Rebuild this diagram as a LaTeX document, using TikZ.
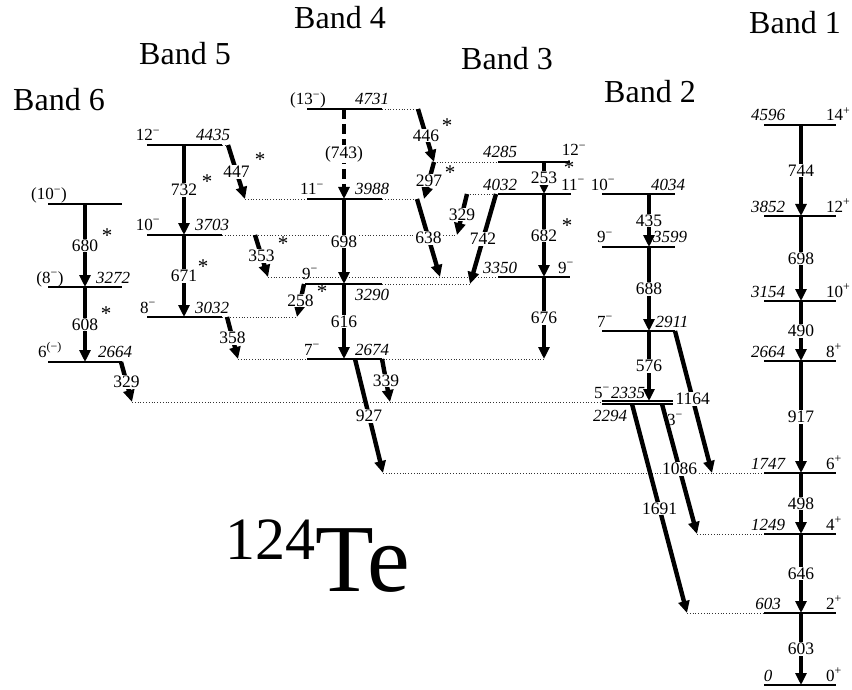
\documentclass[tikz,border=0pt]{standalone}
\usepackage{fontspec}
\setmainfont{Liberation Serif}
\usetikzlibrary{arrows.meta}
\newcommand\lvm{\textsuperscript{−}}
\newcommand\lvp{\textsuperscript{+}}
\begin{document}
\begin{tikzpicture}[x=1pt,y=-1pt,
  lev/.style={line width=1.1pt},
  dotl/.style={line width=0.8pt,dash pattern=on 0.8pt off 2pt,black!80},
  tr/.style={line width=4.4pt,-{Triangle[length=12pt,width=11pt]}},
  trd/.style={tr,dash pattern=on 10pt off 5pt},
  lbl/.style={fill=white,inner sep=1pt,font=\fontsize{17.5}{19}\selectfont},
  en/.style={anchor=base,inner sep=0pt,font=\fontsize{17}{19}\selectfont\itshape},
  sp/.style={anchor=base,inner sep=0pt,font=\fontsize{17}{19}\selectfont},
  spr/.style={anchor=base west,inner sep=0pt,font=\fontsize{17}{19}\selectfont},
  ast/.style={anchor=base,inner sep=0pt,font=\fontsize{21}{23}\selectfont},
  band/.style={anchor=base,inner sep=0pt,font=\fontsize{32}{36}\selectfont}]
\useasboundingbox (0,0) rectangle (852,690);

% ---------- coordinates (transition end points)
\coordinate (B1a) at (801,125); \coordinate (B1b) at (801,216);
\coordinate (B1c) at (801,301); \coordinate (B1d) at (801,361);
\coordinate (B1e) at (801,473); \coordinate (B1f) at (801,534);
\coordinate (B1g) at (801,613); \coordinate (B1h) at (801,685);
\coordinate (B2a) at (649,194); \coordinate (B2b) at (649,247);
\coordinate (B2c) at (649,331); \coordinate (B2d) at (649,401);
\coordinate (s1164) at (675,331); \coordinate (e1164) at (712,473);
\coordinate (s1086) at (662,404); \coordinate (e1086) at (697,534);
\coordinate (s1691) at (632,404); \coordinate (e1691) at (687,613);
\coordinate (B3a) at (544,162); \coordinate (B3b) at (544,194);
\coordinate (B3c) at (544,277); \coordinate (B3d) at (544,359);
\coordinate (s446) at (418,109); \coordinate (e446) at (434,162);
\coordinate (e297) at (424,199);
\coordinate (s638) at (417,199); \coordinate (e638) at (440,277);
\coordinate (s329) at (467,194); \coordinate (e329) at (457,235);
\coordinate (s742) at (496,194); \coordinate (e742) at (470,284);
\coordinate (B4a) at (344,109); \coordinate (B4b) at (344,199);
\coordinate (B4c) at (344,284); \coordinate (B4d) at (344,359);
\coordinate (s927) at (355,359); \coordinate (e927) at (383,473);
\coordinate (s339) at (382,359); \coordinate (e339) at (390,402);
\coordinate (s258) at (304,284); \coordinate (e258) at (297,317);
\coordinate (B5a) at (184,145); \coordinate (B5b) at (184,235);
\coordinate (B5c) at (184,317);
\coordinate (s447) at (228,145); \coordinate (e447) at (245,199);
\coordinate (s353) at (255,235); \coordinate (e353) at (268,277);
\coordinate (s358) at (227,317); \coordinate (e358) at (238,359);
\coordinate (B6a) at (85,204); \coordinate (B6b) at (85,287);
\coordinate (B6c) at (85,362);
\coordinate (s329b) at (121,362); \coordinate (e329b) at (132,402);

% ---------- dotted extensions
\draw[dotl] (382,109) -- (s446);
\draw[dotl] (e446) -- (498,162);
\draw[dotl] (s329) -- (498,194);
\draw[dotl] (e447) -- (s638);
\draw[dotl] (222,145) -- (s447);
\draw[dotl] (222,235) -- (e329);
\draw[dotl] (e353) -- (498,277);
\draw[dotl] (382,284) -- (e742);
\draw[dotl] (222,317) -- (e258);
\draw[dotl] (e358) -- (B3d);
\draw[dotl] (e329b) -- (602,402);
\draw[dotl] (e927) -- (764,473);
\draw[dotl] (e1086) -- (764,534);
\draw[dotl] (e1691) -- (764,613);

% ---------- level lines
% Band 6
\draw[lev] (48,204) -- (122,204);
\draw[lev] (48,287) -- (122,287);
\draw[lev] (48,362) -- (122,362);
% Band 5
\draw[lev] (147,145) -- (222,145);
\draw[lev] (147,235) -- (222,235);
\draw[lev] (147,317) -- (222,317);
% Band 4
\draw[lev] (307,109) -- (382,109);
\draw[lev] (307,199) -- (382,199);
\draw[lev] (305,284) -- (382,284);
\draw[lev] (307,359) -- (382,359);
% Band 3
\draw[lev] (498,162) -- (570,162);
\draw[lev] (498,194) -- (571,194);
\draw[lev] (498,277) -- (570,277);
% Band 2
\draw[lev] (602,194) -- (675,194);
\draw[lev] (602,247) -- (675,247);
\draw[lev] (602,331) -- (675,331);
\draw[lev] (602,401) -- (673,401);
\draw[lev] (602,404) -- (673,404);
% Band 1
\foreach \yy in {125,216,301,361,473,534,613,685}
  \draw[lev] (764,\yy) -- (836,\yy);

% ---------- transitions
% Band 1
\draw[tr] (B1a) -- node[lbl]{744} (B1b);
\draw[tr] (B1b) -- node[lbl]{698} (B1c);
\draw[tr] (B1c) -- node[lbl]{490} (B1d);
\draw[tr] (B1d) -- node[lbl]{917} (B1e);
\draw[tr] (B1e) -- node[lbl]{498} (B1f);
\draw[tr] (B1f) -- node[lbl]{646} (B1g);
\draw[tr] (B1g) -- node[lbl]{603} (B1h);
% Band 2
\draw[tr] (B2a) -- node[lbl]{435} (B2b);
\draw[tr] (B2b) -- node[lbl]{688} (B2c);
\draw[tr] (B2c) -- node[lbl]{576} (B2d);
\draw[tr] (s1164) -- node[lbl,pos=0.48]{1164} (e1164);
\draw[tr] (s1086) -- node[lbl]{1086} (e1086);
\draw[tr] (s1691) -- node[lbl]{1691} (e1691);
% Band 3
\draw[tr] (B3a) -- node[lbl]{253} (B3b);
\draw[tr] (B3b) -- node[lbl]{682} (B3c);
\draw[tr] (B3c) -- node[lbl]{676} (B3d);
\draw[tr] (s446) -- node[lbl]{446} (e446);
\draw[tr] (e446) -- node[lbl]{297} (e297);
\draw[tr] (s638) -- node[lbl]{638} (e638);
\draw[tr] (s329) -- node[lbl]{329} (e329);
\draw[tr] (s742) -- node[lbl]{742} (e742);
% Band 4
\draw[trd] (B4a) -- node[lbl]{(743)} (B4b);
\draw[tr] (B4b) -- node[lbl]{698} (B4c);
\draw[tr] (B4c) -- node[lbl]{616} (B4d);
\draw[tr] (s927) -- node[lbl]{927} (e927);
\draw[tr] (s339) -- node[lbl]{339} (e339);
\draw[tr] (s258) -- node[lbl]{258} (e258);
% Band 5
\draw[tr] (B5a) -- node[lbl]{732} (B5b);
\draw[tr] (B5b) -- node[lbl]{671} (B5c);
\draw[tr] (s447) -- node[lbl]{447} (e447);
\draw[tr] (s353) -- node[lbl]{353} (e353);
\draw[tr] (s358) -- node[lbl]{358} (e358);
% Band 6
\draw[tr] (B6a) -- node[lbl]{680} (B6b);
\draw[tr] (B6b) -- node[lbl]{608} (B6c);
\draw[tr] (s329b) -- node[lbl]{329} (e329b);

% ---------- level labels
% Band 1
\node[en] (e4596) at (768,121) {4596}; \node[spr] (j14) at (826,121) {14\lvp};
\node[en] (e3852) at (768,212) {3852}; \node[spr] (j12p) at (826,212) {12\lvp};
\node[en] (e3154) at (768,297) {3154}; \node[spr] (j10p) at (826,297) {10\lvp};
\node[en] (e2664a) at (768,357) {2664}; \node[spr] (j8p) at (826,357) {8\lvp};
\node[en] (e1747) at (768,469) {1747}; \node[spr] (j6p) at (826,469) {6\lvp};
\node[en] (e1249) at (768,530) {1249}; \node[spr] (j4p) at (826,530) {4\lvp};
\node[en] (e603) at (768,609) {603}; \node[spr] (j2p) at (826,609) {2\lvp};
\node[en] (e0) at (768,681) {0}; \node[spr] (j0p) at (826,681) {0\lvp};
% Band 2
\node[sp] (j10b2) at (603,190) {10\lvm}; \node[en] (e4034) at (668,190) {4034};
\node[sp] (j9b2) at (605,243) {9\lvm}; \node[en] (e3599) at (670,243) {3599};
\node[sp] (j7b2) at (605,327) {7\lvm}; \node[en] (e2911) at (672,327) {2911};
\node[sp] (j5b2) at (602,398) {5\lvm}; \node[en] (e2335) at (628,398) {2335};
\node[en] (e2294) at (610,421) {2294}; \node[sp] (j3b2) at (675,425) {3\lvm};
% Band 3
\node[en] (e4285) at (500,158) {4285}; \node[sp] (j12b3) at (574,156) {12\lvm};
\node[en] (e4032) at (500,190) {4032}; \node[sp] (j11b3) at (573,190) {11\lvm};
\node[en] (e3350) at (500,273) {3350}; \node[sp] (j9b3) at (566,273) {9\lvm};
% Band 4
\node[sp] (j13b4) at (308,105) {(13\lvm)}; \node[en] (e4731) at (372,105) {4731};
\node[sp] (j11b4) at (312,195) {11\lvm}; \node[en] (e3988) at (372,195) {3988};
\node[sp] (j9b4) at (310,279) {9\lvm}; \node[en] (e3290) at (372,300) {3290};
\node[sp] (j7b4) at (312,355) {7\lvm}; \node[en] (e2674) at (372,355) {2674};
% Band 5
\node[sp] (j12b5) at (148,141) {12\lvm}; \node[en] (e4435) at (213,141) {4435};
\node[sp] (j10b5) at (148,230) {10\lvm}; \node[en] (e3703) at (212,230) {3703};
\node[sp] (j8b5) at (148,313) {8\lvm}; \node[en] (e3032) at (212,313) {3032};
% Band 6
\node[sp] (j10b6) at (49,200) {(10\lvm)};
\node[sp] (j8b6) at (50,283) {(8\lvm)}; \node[en] (e3272) at (113,283) {3272};
\node[sp] (j6b6) at (50,357) {6\textsuperscript{(−)}}; \node[en] (e2664b) at (115,357) {2664};

% ---------- asterisks
\node[ast] (a1) at (107,243) {*};
\node[ast] (a2) at (106,320) {*};
\node[ast] (a3) at (207,189) {*};
\node[ast] (a4) at (203,273) {*};
\node[ast] (a5) at (260,167) {*};
\node[ast] (a6) at (283,250.5) {*};
\node[ast] (a7) at (322,298) {*};
\node[ast] (a8) at (447,133) {*};
\node[ast] (a9) at (450,180) {*};
\node[ast] (a10) at (569,175) {*};
\node[ast] (a11) at (567,233) {*};

% ---------- band titles
\node[band] (t4) at (340,29) {Band 4};
\node[band] (t1) at (795,34) {Band 1};
\node[band] (t5) at (185,65) {Band 5};
\node[band] (t3) at (507,70) {Band 3};
\node[band] (t2) at (650,103) {Band 2};
\node[band] (t6) at (59,111) {Band 6};

% ---------- nucleus
\node[anchor=base west,inner sep=0pt] (nuc) at (225,591)
  {\raisebox{32pt}{\fontsize{60}{64}\selectfont 124}\fontsize{96}{100}\selectfont Te};
\end{tikzpicture}
\end{document}
